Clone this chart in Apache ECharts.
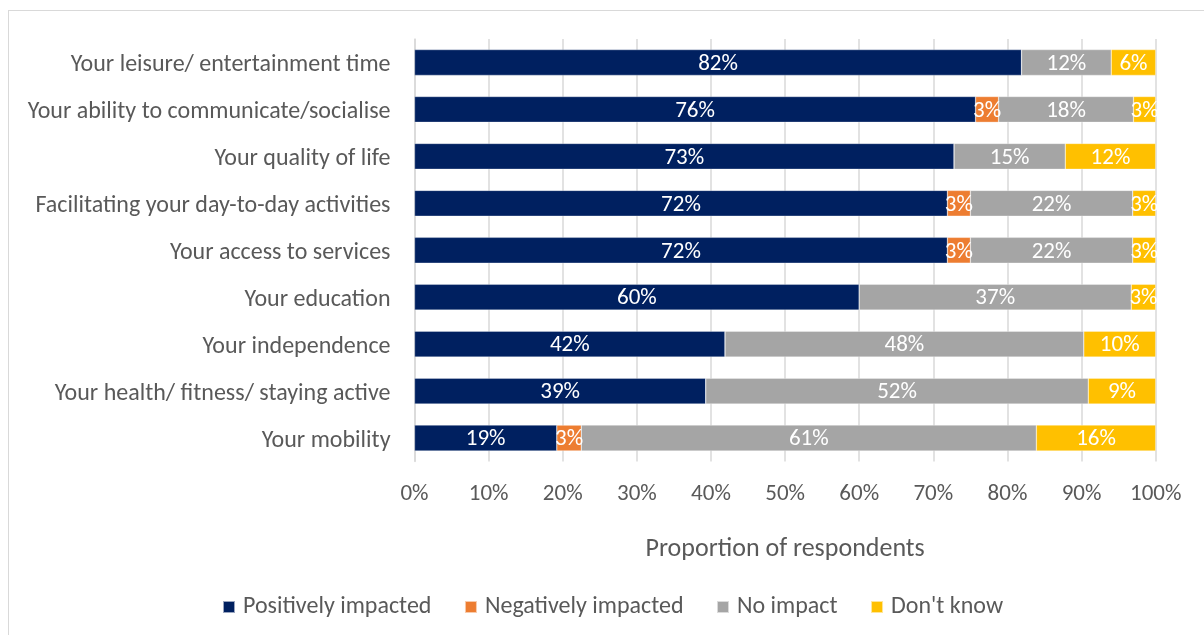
<!DOCTYPE html>
<html>
<head>
<meta charset="utf-8">
<script src="https://cdn.jsdelivr.net/npm/echarts@6/dist/echarts.min.js"></script>
<style>
  html, body { margin: 0; padding: 0; background: #fff; overflow: hidden; }
  #chart { width: 1204px; height: 635px; }
  #frame { position: absolute; left: 8px; top: 10px; width: 1400px; height: 800px;
           border: 1.5px solid #d9d9d9; box-sizing: border-box; pointer-events: none; }
</style>
</head>
<body>
<div id="chart"></div>
<div id="frame"></div>
<script>
// Share of respondents (%) by area of life and type of impact
const categories = [
  'Your leisure/ entertainment time',
  'Your ability to communicate/socialise',
  'Your quality of life',
  'Facilitating your day-to-day activities',
  'Your access to services',
  'Your education',
  'Your independence',
  'Your health/ fitness/ staying active',
  'Your mobility'
];
const positive = [81.9, 75.7, 72.8, 71.9, 71.9, 60.0, 41.9, 39.3, 19.2];
const negative = [0, 3.1, 0, 3.1, 3.1, 0, 0, 0, 3.3];
const noImpact = [12.1, 18.2, 15.0, 21.9, 21.9, 36.7, 48.4, 51.6, 61.4];
const dontKnow = [6.0, 3.0, 12.2, 3.1, 3.1, 3.3, 9.7, 9.1, 16.1];
const seriesNames = ['Positively impacted', 'Negatively impacted', 'No impact', "Don't know"];
const tickValues = [0, 10, 20, 30, 40, 50, 60, 70, 80, 90, 100];

const FONT = 'Carlito, Lato, sans-serif';
const TEXT = '#595959';
const colors = ['#002060', '#ED7D31', '#A5A5A5', '#FFC000'];

function makeSeries(name, data, color) {
  return {
    name: name,
    type: 'bar',
    stack: 'total',
    data: data,
    barCategoryGap: '45%',
    itemStyle: { color: color, borderColor: 'rgba(255,255,255,0.6)', borderWidth: 0.5 },
    label: {
      show: true,
      position: 'inside',
      offset: [0, 1.5],
      color: '#ffffff',
      fontFamily: FONT,
      fontSize: 23,
      formatter: p => (p.value > 0 ? Math.round(p.value) + '%' : '')
    },
    emphasis: { disabled: true }
  };
}

const chart = echarts.init(document.getElementById('chart'), null, { renderer: 'canvas' });
chart.setOption({
  animation: false,
  backgroundColor: '#ffffff',
  grid: { left: 414.5, right: 48.3, top: 39, bottom: 173.5, containLabel: false },
  xAxis: {
    type: 'value',
    min: tickValues[0],
    max: tickValues[tickValues.length - 1],
    interval: 10,
    axisLine: { show: false },
    axisTick: { show: false },
    splitLine: { show: true, lineStyle: { color: '#d9d9d9', width: 1.5 } },
    axisLabel: {
      formatter: '{value}%',
      color: TEXT,
      fontFamily: FONT,
      fontSize: 23,
      margin: 21
    },
    name: 'Proportion of respondents',
    nameLocation: 'middle',
    nameGap: 75,
    nameTextStyle: { color: TEXT, fontFamily: FONT, fontSize: 26 }
  },
  yAxis: {
    type: 'category',
    data: categories,
    inverse: true,
    axisLine: { show: true, lineStyle: { color: '#d9d9d9', width: 1.5 } },
    axisTick: { show: false },
    axisLabel: {
      color: TEXT, fontFamily: FONT, fontSize: 24, margin: 24,
      formatter: v => '{c|' + v + '}',
      rich: { c: { color: TEXT, fontFamily: FONT, fontSize: 24, padding: [5, 0, 0, 0] } }
    }
  },
  legend: {
    data: seriesNames,
    left: 217,
    top: 590,
    itemWidth: 12,
    itemHeight: 12,
    itemGap: 32.5,
    icon: 'rect',
    textStyle: { color: TEXT, fontFamily: FONT, fontSize: 24, padding: [0, 0, 0, 3] }
  },
  series: [
    makeSeries(seriesNames[0], positive, colors[0]),
    makeSeries(seriesNames[1], negative, colors[1]),
    makeSeries(seriesNames[2], noImpact, colors[2]),
    makeSeries(seriesNames[3], dontKnow, colors[3])
  ]
});
</script>
</body>
</html>
